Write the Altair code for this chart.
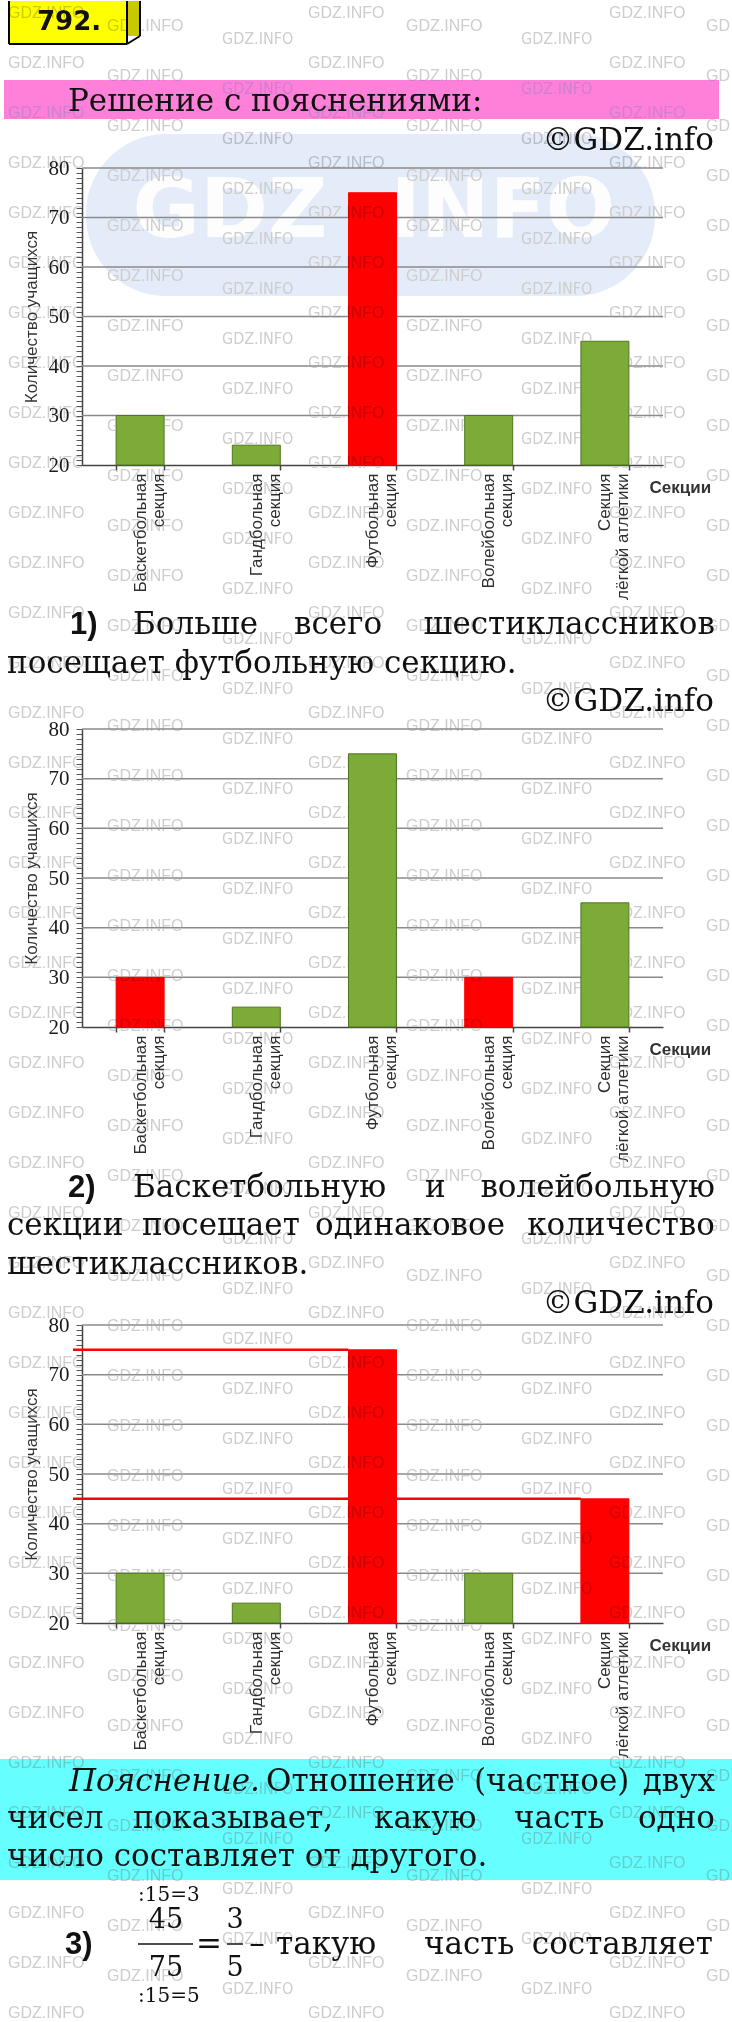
import altair as alt
import pandas as pd

# ---------------- data ----------------
categories = [
    "Баскетбольная\nсекция",
    "Гандбольная\nсекция",
    "Футбольная\nсекция",
    "Волейбольная\nсекция",
    "Секция\nлёгкой атлетики",
]
students = [30, 24, 75, 30, 45]
highlight_1 = ["no", "no", "yes", "no", "no"]
highlight_2 = ["yes", "no", "no", "yes", "no"]
highlight_3 = ["no", "no", "yes", "no", "yes"]
guide_values_3 = [75, 45]
guide_targets_3 = ["Футбольная\nсекция", "Секция\nлёгкой атлетики"]
y_domain = [20, 80]
y_tick_values = list(range(20, 81))
grid_values = [30, 40, 50, 60, 70, 80]

y_title = "Количество учащихся"
x_title = "Секции"
task_number = "792."
header_title = "Решение с пояснениями:"
copyright_text = "©GDZ.info"
watermark_text = "GDZ.INFO"
logo_words = ["GDZ", "INFO"]

# ---------------- layout / styles ----------------
PAGE_W = 732
OX = 82          # page x of the plot areas' left edge
PLOT_W = 581
GREEN = "#7cab38"
GREEN_EDGE = "#4f7520"
RED = "#ff0000"
GRID = "#8a8a8a"
PINK = "#ff80d8"
CYAN = "#66ffff"
ONE = pd.DataFrame({"k": [0]})

STYLES = {
    "body": dict(font="DejaVu Serif", fontSize=31, align="left"),
    "body_r": dict(font="DejaVu Serif", fontSize=31, align="right"),
    "italic": dict(font="DejaVu Serif", fontSize=31, fontStyle="italic", align="left"),
    "num": dict(font="Liberation Sans", fontSize=31, fontWeight="bold", align="left"),
    "task": dict(font="DejaVu Sans", fontSize=26, fontWeight="bold", align="left"),
    "small": dict(font="DejaVu Serif", fontSize=20, align="left"),
    "frac": dict(font="DejaVu Serif", fontSize=27, align="center"),
    "op": dict(font="DejaVu Serif", fontSize=31, align="center", baseline="middle"),
}


def rect(x1, y1, x2, y2, **mark):
    return alt.Chart(ONE).mark_rect(**mark).encode(
        x=alt.value(x1), x2=alt.value(x2), y=alt.value(y1), y2=alt.value(y2))


def rule(x1, y1, x2, y2, **mark):
    return alt.Chart(ONE).mark_rule(**mark).encode(
        x=alt.value(x1), x2=alt.value(x2), y=alt.value(y1), y2=alt.value(y2))


def text_layer(recs, **props):
    return alt.Chart(pd.DataFrame(recs)).mark_text(**props).encode(
        x=alt.X("x:Q", scale=None, axis=None),
        y=alt.Y("y:Q", scale=None, axis=None),
        text="t:N")


# tiled "GDZ.INFO" watermark pattern: (left x of each column, first row centre, kind)
WM_SETS = [((8, 308, 609), 12, "a"), ((107, 406), 25, "a"), ((706,), 25, "edge"), ((222, 521), 38, "c")]


def wm_layers(top, h):
    recs = {"a": [], "edge": [], "c": []}
    for xs, y0, kind in WM_SETS:
        for k in range(41):
            yc = y0 + 50 * k
            if top <= yc < top + h:
                for xl in xs:
                    txt = watermark_text[:2] if kind == "edge" else watermark_text
                    recs[kind].append({"x": xl - OX, "y": yc - top, "t": txt})
    layers = []
    for kind, rows in recs.items():
        if not rows:
            continue
        props = dict(align="left", baseline="middle", color="#cdcdcd", blend="darken", fontSize=16,
                     font="DejaVu Sans Condensed" if kind == "c" else "Liberation Sans")
        layers.append(text_layer(rows, **props))
    return layers


def text_row(top, h, items, rects=(), rules=()):
    layers = [rect(-OX, 0, PAGE_W - OX, h, fill="white", opacity=0)]
    for (x1, y1, x2, y2, props) in rects:
        layers.append(rect(x1 - OX, y1 - top, x2 - OX, y2 - top, **props))
    for (x1, y1, x2, y2, props) in rules:
        layers.append(rule(x1 - OX, y1 - top, x2 - OX, y2 - top, **props))
    groups = {}
    for (t, x, y, st) in items:
        groups.setdefault(st, []).append({"t": t, "x": x - OX, "y": y - top})
    for st, recs in groups.items():
        props = dict(baseline="alphabetic", color="#111111")
        props.update(STYLES[st])
        layers.append(text_layer(recs, **props))
    layers += wm_layers(top, h)
    return alt.layer(*layers).properties(width=PLOT_W, height=h)


y_axis = alt.Axis(
    values=y_tick_values,
    labelExpr="datum.value % 10 === 0 ? datum.label : ''",
    labelFont="Liberation Serif", labelFontSize=21, labelColor="#1a1a1a",
    labelPadding=7, labelOverlap=False,
    tickSize=6, tickColor="#555555", tickWidth=1,
    domainColor="#444444", domainWidth=1.5, grid=False,
    title=y_title, titleFont="Liberation Sans", titleFontSize=17, titleFontWeight="normal",
    titleColor="#333333", titlePadding=8,
)

x_axis = alt.Axis(
    title=x_title, labelAngle=270, labelAlign="right", labelBaseline="middle",
    labelExpr="split(datum.label, '\\n')",
    labelFont="Liberation Sans", labelFontSize=17, labelLineHeight=18, labelColor="#2e2e2e",
    labelPadding=3, tickBand="extent", tickSize=5, tickColor="#444444", tickWidth=1.5,
    domainColor="#444444", domainWidth=1.5, grid=False,
    titleX=567, titleY=22, titleAlign="left", titleBaseline="middle", titleAngle=0,
    titleFont="Liberation Sans", titleFontSize=17, titleFontWeight="bold", titleColor="#333333",
)

YSCALE = alt.Scale(domain=y_domain, nice=False, zero=False)
XSCALE = alt.Scale(domain=categories, paddingInner=0.587, paddingOuter=0.2935)


def bar_row(top, h, highlight, guides=False, logo=False):
    df = pd.DataFrame({"category": categories, "students": students, "hl": highlight})
    layers = []
    if logo:
        layers.append(rect(86 - OX, 133 - top, 655 - OX, 295 - top, fill="#e4ebf9",
                           cornerRadius=80, blend="multiply"))
        layers.append(text_layer(
            [{"t": logo_words[0], "x": 230 - OX, "y": 236 - top},
             {"t": logo_words[1], "x": 503 - OX, "y": 236 - top}],
            font="DejaVu Sans", fontWeight="bold", fontSize=82, color="white",
            opacity=0.95, align="center", baseline="alphabetic"))
    layers.append(
        alt.Chart(pd.DataFrame({"g": grid_values})).mark_rule(color=GRID, strokeWidth=1.5).encode(
            y=alt.Y("g:Q", scale=YSCALE, axis=y_axis),
            x=alt.value(0), x2=alt.value(PLOT_W)))
    layers.append(
        alt.Chart(df).mark_bar(strokeWidth=1).encode(
            x=alt.X("category:N", scale=XSCALE, axis=x_axis),
            y=alt.Y("students:Q", scale=YSCALE, axis=y_axis),
            y2=alt.datum(20),
            color=alt.Color("hl:N", scale=alt.Scale(domain=["no", "yes"], range=[GREEN, RED]), legend=None),
            stroke=alt.Stroke("hl:N", scale=alt.Scale(domain=["no", "yes"], range=[GREEN_EDGE, RED]), legend=None),
        ))
    if guides:
        gdf = pd.DataFrame({"category": guide_targets_3, "students": guide_values_3})
        layers.append(
            alt.Chart(gdf).mark_rule(color=RED, strokeWidth=2.5).encode(
                x=alt.X("category:N", scale=XSCALE, bandPosition=0, axis=x_axis),
                x2=alt.value(-9),
                y=alt.Y("students:Q", scale=YSCALE, axis=y_axis)))
    layers += wm_layers(top, h)
    return alt.layer(*layers).properties(width=PLOT_W, height=h)


# ---------------- rows ----------------
head = text_row(
    0, 167,
    items=[(task_number, 37, 29, "task"),
           (header_title, 68, 110, "body"),
           (copyright_text, 714, 149, "body_r")],
    rects=[(127, 0, 140, 35, dict(fill="#c9c900")),
           (9, 0, 127, 43, dict(fill="#ffff00")),
           (4, 79, 719, 118, dict(fill=PINK))],
    rules=[(9, 0, 9, 43, dict(color="black", strokeWidth=2)),
           (9, 43, 127, 43, dict(color="black", strokeWidth=2)),
           (127, 0, 127, 43, dict(color="black", strokeWidth=2)),
           (140, 0, 140, 35, dict(color="black", strokeWidth=2)),
           (140, 35, 127, 43, dict(color="black", strokeWidth=2))],
)

chart1 = bar_row(167, 297, highlight_1, logo=True)

text1 = text_row(
    464, 264,
    items=[("1)", 70, 633, "num"), ("Больше", 133, 633, "body"), ("всего", 294, 633, "body"),
           ("шестиклассников", 715, 633, "body_r"),
           ("посещает футбольную секцию.", 7, 672, "body"),
           (copyright_text, 714, 710, "body_r")],
)

chart2 = bar_row(728, 298, highlight_2)

text2 = text_row(
    1026, 298,
    items=[("2)", 68, 1196, "num"), ("Баскетбольную", 133, 1196, "body"), ("и", 425, 1196, "body"),
           ("волейбольную", 715, 1196, "body_r"),
           ("секции", 7, 1234, "body"), ("посещает", 142, 1234, "body"),
           ("одинаковое", 315, 1234, "body"), ("количество", 715, 1234, "body_r"),
           ("шестиклассников.", 7, 1273, "body"),
           (copyright_text, 714, 1312, "body_r")],
)

chart3 = bar_row(1324, 298, highlight_3, guides=True)

text3 = text_row(
    1622, 400,
    items=[("Пояснение.", 69, 1790, "italic"), ("Отношение", 266, 1790, "body"),
           ("(частное)", 474, 1790, "body"), ("двух", 715, 1790, "body_r"),
           ("чисел", 7, 1827, "body"), ("показывает,", 133, 1827, "body"),
           ("какую", 374, 1827, "body"), ("часть", 514, 1827, "body"), ("одно", 715, 1827, "body_r"),
           ("число составляет от другого.", 7, 1865, "body"),
           (":15=3", 138, 1900, "small"), ("45", 166, 1927, "frac"), ("75", 166, 1975, "frac"),
           (":15=5", 138, 2001, "small"), ("=", 209, 1944, "op"), ("3", 235, 1927, "frac"),
           ("5", 235, 1975, "frac"), ("–", 257, 1943, "op"),
           ("3)", 65, 1953, "num"), ("такую", 276, 1953, "body"), ("часть", 424, 1953, "body"),
           ("составляет", 713, 1953, "body_r")],
    rects=[(0, 1758, 732, 1879, dict(fill=CYAN))],
    rules=[(138, 1943, 193, 1943, dict(color="#111111", strokeWidth=1.5)),
           (227, 1943, 243, 1943, dict(color="#111111", strokeWidth=1.5))],
)

chart = alt.vconcat(head, chart1, text1, chart2, text2, chart3, text3,
                    spacing=0, bounds="flush").configure_view(strokeWidth=0).properties(
    padding=0, background="#ffffff")

chart.save("out.html", embed_options={"renderer": "svg", "actions": False})
